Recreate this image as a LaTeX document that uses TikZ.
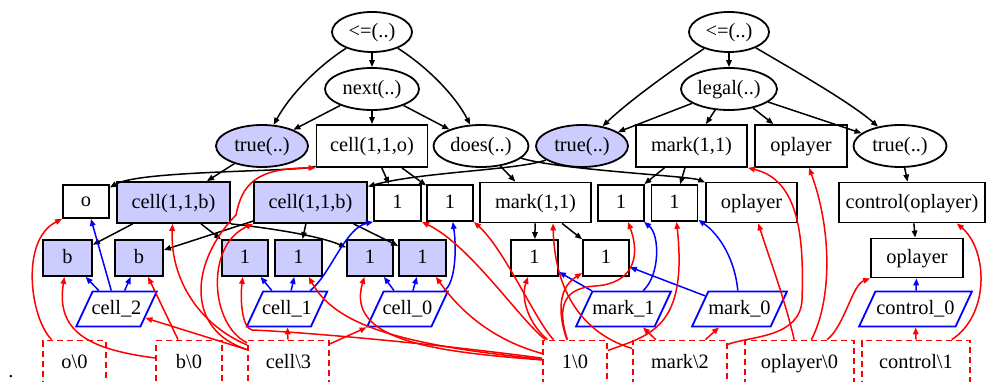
\documentclass[tikz,border=0pt]{standalone}
\usepackage{fontspec}
\setmainfont{Liberation Serif}
\usetikzlibrary{shapes.geometric,arrows.meta}
\definecolor{lav}{RGB}{204,204,255}
\newcommand\gfs{\fontsize{20.4}{24}\selectfont}
\tikzset{
  gnode/.style={font=\gfs, line width=1.8pt, inner sep=0pt, text height=14pt, text depth=3pt},
  goval/.style={gnode, ellipse, draw, minimum height=42pt},
  gbox/.style={gnode, rectangle, draw, minimum height=36pt},
  ghl/.style={fill=lav},
  gpar/.style={gnode, trapezium, trapezium left angle=65, trapezium right angle=115,
               draw=blue, inner xsep=-1pt, inner ysep=9pt},
  gsym/.style={gnode, rectangle, draw=red, dash pattern=on 6pt off 4pt, minimum height=44pt},
  gtree/.style={line width=1.5pt, -{Triangle[length=7pt,width=5.5pt]}},
  garg/.style={gtree, draw=blue},
  gfun/.style={gtree, draw=red},
}
\begin{document}
\begin{tikzpicture}[x=1pt,y=-1pt]
\useasboundingbox (0,0) rectangle (987,382);

% rule heads
\node[goval, minimum width=80pt, minimum height=40pt] (ruleA) at (372,32) {<=(..)};
\node[goval, minimum width=94pt] (next) at (372,89) {next(..)};
\node[goval, minimum width=80pt, minimum height=40pt] (ruleB) at (729,32) {<=(..)};
\node[goval, minimum width=96pt] (legal) at (729,89) {legal(..)};

% second level
\node[goval, ghl, minimum width=92pt] (trueA) at (262,146) {true(..)};
\node[gbox, minimum width=111pt, minimum height=42pt] (cello) at (372,146) {cell(1,1,o)};
\node[goval, minimum width=95pt] (does) at (481,146) {does(..)};
\node[goval, ghl, minimum width=92pt] (trueB) at (582,146) {true(..)};
\node[gbox, minimum width=111pt, minimum height=42pt] (markA) at (691.5,146) {mark(1,1)};
\node[gbox, minimum width=92pt, minimum height=42pt] (oplA) at (801,146) {oplayer};
\node[goval, minimum width=93pt] (trueC) at (900,146) {true(..)};

% third level
\node[gbox, minimum width=46pt, minimum height=33pt] (o) at (86,201.5) {o};
\node[gbox, ghl, minimum width=113pt, minimum height=41pt] (cellbA) at (173.5,202.5) {cell(1,1,b)};
\node[gbox, ghl, minimum width=113pt, minimum height=41pt] (cellbB) at (310.5,202.5) {cell(1,1,b)};
\node[gbox, minimum width=47pt] (oneA) at (397.5,203) {1};
\node[gbox, minimum width=46pt] (oneB) at (450,203) {1};
\node[gbox, minimum width=111pt, minimum height=40pt] (markB) at (535.5,202.5) {mark(1,1)};
\node[gbox, minimum width=46pt] (oneC) at (621,203) {1};
\node[gbox, minimum width=46pt] (oneD) at (674.5,203) {1};
\node[gbox, minimum width=91pt, minimum height=40pt] (oplB) at (751.5,202.5) {oplayer};
\node[gbox, minimum width=146pt, minimum height=40pt] (ctrl) at (912,202.5) {control(oplayer)};

% fourth level
\node[gbox, ghl, minimum width=49pt] (bA) at (67.5,258) {b};
\node[gbox, ghl, minimum width=48pt] (bB) at (139,258) {b};
\node[gbox, ghl, minimum width=46pt] (oneE) at (245,258) {1};
\node[gbox, ghl, minimum width=47pt] (oneF) at (298.5,258) {1};
\node[gbox, ghl, minimum width=46pt] (oneG) at (370,258) {1};
\node[gbox, ghl, minimum width=47pt] (oneH) at (422.5,258) {1};
\node[gbox, minimum width=47pt] (oneI) at (534.5,258) {1};
\node[gbox, minimum width=46pt] (oneJ) at (606,258) {1};
\node[gbox, minimum width=92pt, minimum height=39pt] (oplC) at (917,258) {oplayer};

% variables
\node[gpar] (vcellB) at (116.5,309) {cell\_2};
\node[gpar] (vcellA) at (287,309) {cell\_1};
\node[gpar] (vcellZ) at (407.5,309) {cell\_0};
\node[gpar, inner xsep=0pt] (vmarkA) at (623.5,309) {mark\_1};
\node[gpar, inner xsep=0pt] (vmarkZ) at (739.5,309) {mark\_0};
\node[gpar, inner xsep=1pt] (vctrl) at (915.5,309) {control\_0};

% symbols
\node[gsym, minimum width=63pt] (so) at (74.5,362.5) {o\textbackslash 0};
\node[gsym, minimum width=66pt] (sb) at (189,362.5) {b\textbackslash 0};
\node[gsym, minimum width=81pt] (scell) at (288.5,362.5) {cell\textbackslash 3};
\node[gsym, minimum width=64pt] (sone) at (575,362.5) {1\textbackslash 0};
\node[gsym, minimum width=94pt] (smark) at (680,362.5) {mark\textbackslash 2};
\node[gsym, minimum width=109pt] (sopl) at (799.5,362.5) {oplayer\textbackslash 0};
\node[gsym, minimum width=108pt] (sctrl) at (916,362.5) {control\textbackslash 1};
\node[gnode, anchor=base] (dot) at (11,377) {.};

% tree edges
\draw[gtree] (ruleA) -- (next);
\draw[gtree] (ruleA) .. controls (318,66) and (290,95) .. (trueA);
\draw[gtree] (ruleA) .. controls (426,66) and (455,95) .. (does);
\draw[gtree] (next) -- (trueA);
\draw[gtree] (next) -- (cello);
\draw[gtree] (next) -- (does);
\draw[gtree] (ruleB) -- (legal);
\draw[gtree] (ruleB) .. controls (675,68) and (630,100) .. (trueB);
\draw[gtree] (ruleB) .. controls (790,68) and (850,102) .. (trueC);
\draw[gtree] (legal) -- (trueB);
\draw[gtree] (legal) -- (markA);
\draw[gtree] (legal) -- (oplA);
\draw[gtree] (legal) -- (trueC);

\draw[gtree] (trueA) -- (cellbA);
\draw[gtree] (cello) .. controls (300,172) and (140,170) .. (o);
\draw[gtree] (cello) -- (oneA);
\draw[gtree] (cello) -- (oneB);
\draw[gtree] (does) -- (markB);
\draw[gtree] (does) .. controls (560,170) and (690,176) .. (oplB);
\draw[gtree] (trueB) .. controls (520,170) and (420,172) .. (cellbB);
\draw[gtree] (markA) -- (oneC);
\draw[gtree] (markA) -- (oneD);
\draw[gtree] (trueC) -- (ctrl);

\draw[gtree] (cellbA) -- (bA);
\draw[gtree] (cellbA) -- (oneE);
\draw[gtree] (cellbA.south east) .. controls (270,228) and (320,236) .. (oneG);
\draw[gtree] (cellbB) -- (bB);
\draw[gtree] (cellbB) -- (oneF);
\draw[gtree] (cellbB) -- (oneH);
\draw[gtree] (markB) -- (oneI);
\draw[gtree] (markB) -- (oneJ);
\draw[gtree] (ctrl) -- (oplC);

% variable occurrences
\draw[garg] (vcellB) -- (bA);
\draw[garg] (vcellB) -- (o);
\draw[garg] (vcellB) -- (bB);
\draw[garg] (vcellA) -- (oneE);
\draw[garg] (vcellA) -- (oneF);
\draw[garg] (vcellA) .. controls (330,275) and (345,228) .. (oneA.south west);
\draw[garg] (vcellZ) -- (oneG);
\draw[garg] (vcellZ) -- (oneH);
\draw[garg] (vcellZ) .. controls (455,285) and (457,250) .. (oneB);
\draw[garg] (vmarkA) -- (oneI);
\draw[garg] (vmarkA) .. controls (660,275) and (660,235) .. (oneC);
\draw[garg] (vmarkZ) -- (oneJ);
\draw[garg] (vmarkZ) .. controls (735,260) and (720,235) .. (oneD);
\draw[garg] (vctrl) -- (oplC);

% symbol occurrences
\draw[gfun] (so) .. controls (30,318) and (20,240) .. (o.south west);
\draw[gfun] (sb) .. controls (95,350) and (55,335) .. (bA);
\draw[gfun] (sb) -- (bB);
\draw[gfun] (scell) -- (vcellB);
\draw[gfun] (scell) -- (vcellA);
\draw[gfun] (scell) -- (vcellZ);
\draw[gfun] (scell) .. controls (200,325) and (170,280) .. (cellbA);
\draw[gfun] (scell) .. controls (210,325) and (205,245) .. (cellbB.south west);
\draw[gfun] (scell) .. controls (185,330) and (190,262) .. (236,215)
                    .. controls (242,185) and (255,168) .. (cello.south west);

\draw[gfun] (sone) .. controls (420,342) and (300,332) .. (252,330)
                   .. controls (242,328) and (240,300) .. (oneE);
\draw[gfun] (sone) .. controls (400,345) and (335,325) .. (oneF);
\draw[gfun] (sone) .. controls (440,352) and (345,342) .. (oneG);
\draw[gfun] (sone) .. controls (500,342) and (465,318) .. (oneH);
\draw[gfun] (sone) .. controls (520,320) and (470,245) .. (oneA.south east);
\draw[gfun] (sone) .. controls (535,320) and (505,250) .. (oneB.south east);
\draw[gfun] (sone) .. controls (530,325) and (520,300) .. (oneI);
\draw[gfun] (sone) .. controls (560,320) and (555,290) .. (oneJ);
\draw[gfun] (sone) .. controls (556,305) and (565,288) .. (595,286)
                   .. controls (630,284) and (642,260) .. (oneC);
\draw[gfun] (sone) .. controls (650,335) and (688,328) .. (oneD);

\draw[gfun] (smark) .. controls (590,336) and (555,300) .. (markB.-50);
\draw[gfun] (smark) -- (vmarkA);
\draw[gfun] (smark) -- (vmarkZ);
\draw[gfun] (smark) .. controls (750,336) and (800,338) .. (802,300)
                    .. controls (804,240) and (800,180) .. (markA.south east);

\draw[gfun] (sopl) .. controls (785,300) and (770,260) .. (oplB);
\draw[gfun] (sopl) .. controls (832,300) and (832,230) .. (oplA);
\draw[gfun] (sopl) .. controls (845,325) and (852,285) .. (oplC.south west);

\draw[gfun] (sctrl) -- (vctrl);
\draw[gfun] (sctrl) .. controls (990,315) and (988,250) .. (ctrl.-25);
\end{tikzpicture}
\end{document}
